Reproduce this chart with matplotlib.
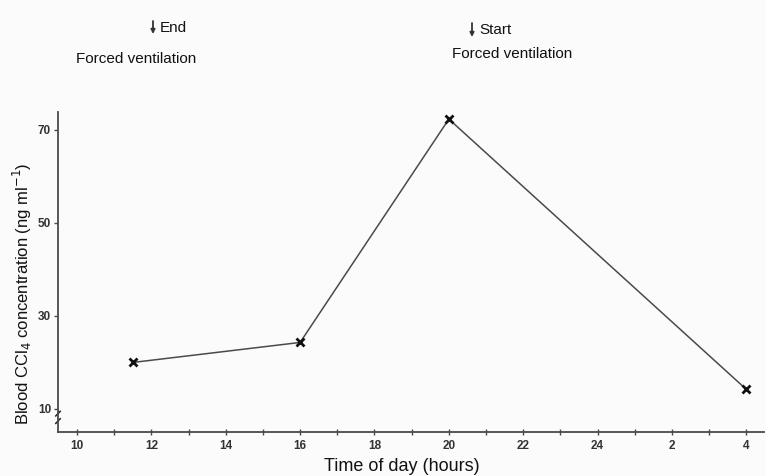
import matplotlib.pyplot as plt
import numpy as np

# time of day in hours (times after midnight continue past 24)
hours = [11.5, 16, 20, 28]
ccl4 = [20, 24.3, 72.3, 14.2]

major_ticks = [10, 12, 14, 16, 18, 20, 22, 24, 26, 28]
major_labels = ["10", "12", "14", "16", "18", "20", "22", "24", "2", "4"]
minor_ticks = [11, 13, 15, 17, 19, 21, 23, 25, 27]
y_ticks = [10, 30, 50, 70]

plt.rcParams['font.family'] = ['Liberation Sans', 'DejaVu Sans']

W, H = 766, 476
fig = plt.figure(figsize=(W / 100, H / 100), dpi=100)
fig.patch.set_facecolor("#fbfbfb")
ax = fig.add_axes([0.0757, 0.0924, 0.922, 0.673])
ax.set_facecolor("#fbfbfb")

ax.plot(hours, ccl4, color="#4a4a4a", lw=1.1, marker="x", ms=6,
        mew=2.0, mec="#111111", clip_on=False, zorder=3)

ax.set_xlim(9.49, 28.48)
ax.set_ylim(5.05, 73.9)

for side in ["top", "right"]:
    ax.spines[side].set_visible(False)
for side in ["left", "bottom"]:
    ax.spines[side].set_color("#4a4a4a")
    ax.spines[side].set_linewidth(1.3)

ax.set_xticks(major_ticks)
ax.set_xticklabels(major_labels, fontsize=8.5, fontweight="bold", color="#333333")
ax.set_xticks(minor_ticks, minor=True)
ax.tick_params(axis="x", which="both", direction="inout", length=5, width=1,
               color="#4a4a4a", pad=3)
ax.set_yticks(y_ticks)
ax.set_yticklabels([str(v) for v in y_ticks], fontsize=8.5, fontweight="bold",
                   color="#333333")
ax.tick_params(axis="y", direction="out", length=3, width=1, color="#4a4a4a", pad=2)

# axis break marks on the y axis
for dy in (0, 1.6):
    ax.plot([9.43, 9.55], [6.9 + dy, 7.9 + dy], color="#222222", lw=1.1,
            clip_on=False)

ax.set_xlabel("Time of day (hours)", fontsize=13, color="#111111")
ax.xaxis.set_label_coords((402 - 58) / (W * 0.922), -(466 - 432) / (H * 0.673))
ax.xaxis.label.set_va("center")
ax.set_ylabel("Blood CCl$_4$ concentration (ng ml$^{-1}$)", fontsize=12,
              color="#111111")
ax.yaxis.set_label_coords(-(58 - 22) / (W * 0.922), (432 - 294) / (H * 0.673))
ax.yaxis.label.set_ha("center")
ax.yaxis.label.set_va("center")


def px(x, y):
    return x / W, 1 - y / H


def down_arrow(x, y0, y1):
    ax.annotate("", xy=(x, H - y1), xytext=(x, H - y0), xycoords="figure pixels",
                textcoords="figure pixels", annotation_clip=False,
                arrowprops=dict(arrowstyle="-|>", lw=1.3, color="#333333",
                                mutation_scale=6, shrinkA=0, shrinkB=0))


# ventilation annotations above the plot
down_arrow(153, 21, 34)
fig.text(*px(160, 28), "End", fontsize=11, ha="left", va="center", color="#111111")
fig.text(*px(76, 59), "Forced ventilation", fontsize=11, ha="left", va="center",
         color="#111111")
down_arrow(472, 23, 37)
fig.text(*px(479, 30), "Start", fontsize=11, ha="left", va="center", color="#111111")
fig.text(*px(452, 54), "Forced ventilation", fontsize=11, ha="left", va="center",
         color="#111111")

fig.savefig("out.png", dpi=100, facecolor=fig.get_facecolor())
